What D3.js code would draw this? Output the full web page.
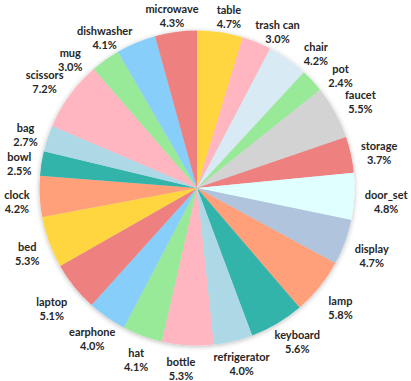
<!DOCTYPE html>
<html><head><meta charset="utf-8">
<script src="https://cdn.jsdelivr.net/npm/d3@7"></script>
<style>
html,body{margin:0;padding:0;background:#fff;}
svg{display:block;}
text{font-family:Lato,"Open Sans",sans-serif;font-weight:bold;font-size:11px;fill:#262626;}
</style></head>
<body><svg id="c" width="411" height="381"></svg>
<script>
const categories = ["table","trash can","chair","pot","faucet","storage","door_set","display","lamp","keyboard","refrigerator","bottle","hat","earphone","laptop","bed","clock","bowl","bag","scissors","mug","dishwasher","microwave"];
const values = [4.7,3.0,4.2,2.4,5.5,3.7,4.8,4.7,5.8,5.6,4.0,5.3,4.1,4.0,5.1,5.3,4.2,2.5,2.7,7.2,3.0,4.1,4.3];
const colors = ["#FFD640","#FFB6C1","#D8EAF3","#98EA98","#D3D3D3","#EE8080","#E0FFFF","#B0C4DE","#FFA07A","#32B4AA","#ADD8E6","#FFB6C1","#98EA98","#87CEFA","#EE8080","#FFD640","#FFA07A","#32B4AA","#ADD8E6","#FFB6C1","#98EA98","#87CEFA","#EE8080"];

const W = 411, H = 381, cx = 197, cy = 188, R = 157.5;
const svg = d3.select("#c");
const defs = svg.append("defs");
const f = defs.append("filter").attr("id","sh").attr("x","-20%").attr("y","-20%").attr("width","140%").attr("height","140%");
f.append("feDropShadow").attr("dx",0).attr("dy",1).attr("stdDeviation",2.5).attr("flood-color","#000").attr("flood-opacity",0.28);

const data = categories.map((c,i)=>({name:c,value:values[i],color:colors[i]}));
const pie = d3.pie().value(d=>d.value).sort(null);
const arcs = pie(data);
const arc = d3.arc().innerRadius(0).outerRadius(R);
const g = svg.append("g").attr("transform",`translate(${cx},${cy})`);
const pg = g.append("g").attr("filter","url(#sh)");
pg.selectAll("path").data(arcs).join("path").attr("d",arc).attr("fill",d=>d.data.color);

const padX = 5, padY = 1, D = R + 5, LH = 28, colH = 22;
const lg = g.append("g");
const labels = arcs.map(a=>{
  const t = lg.append("text").attr("text-anchor","middle");
  t.append("tspan").attr("x",0).attr("y",1).text(a.data.name);
  t.append("tspan").attr("x",0).attr("y",15).text(d3.format(".1f")(a.data.value)+"%");
  const tw = t.node().getBBox().width;
  return {t, tw, w: tw + 2*padX, h: LH + 2*padY, th:(a.startAngle+a.endAngle)/2, x:0, y:0};
});
function place(l){
  const s = Math.sin(l.th), c = Math.cos(l.th);
  const tt = Math.min(Math.abs(s)>1e-6 ? l.w/2/Math.abs(s) : 1e9, Math.abs(c)>1e-6 ? l.h/2/Math.abs(c) : 1e9);
  const dist = D + tt;
  l.x = dist*s; l.y = -dist*c;
}
const spacing = l => 9*Math.max(0, Math.abs(Math.cos(l.th)) - 0.8)/0.2;
const dl = 0.002, n = labels.length;
for (let it=0; it<1500; it++){
  let moved = false;
  labels.forEach(l=>{
    place(l);
    const s = Math.sin(l.th);
    if (cy + l.y < 8){ l.th += s>0 ? dl : -dl; moved = true; }
    if (cy + l.y > 366){ l.th += s>0 ? -dl : dl; moved = true; }
  });
  for (let i=0;i<n;i++){
    const a = labels[i], b = labels[(i+1)%n];
    place(a); place(b);
    if (Math.abs(a.x-b.x) < (a.tw+b.tw)/2 + 1 + spacing(a) + spacing(b) && Math.abs(a.y-b.y) < colH){
      const wa = Math.abs(Math.sin(a.th)) + 0.15, wb = Math.abs(Math.sin(b.th)) + 0.15;
      const k = 2*dl/(wa+wb);
      a.th -= k*wa; b.th += k*wb; moved = true;
    }
  }
  if (!moved) break;
}
labels.forEach(l=>{ place(l); l.t.attr("transform",`translate(${l.x},${l.y})`); });
</script></body></html>
